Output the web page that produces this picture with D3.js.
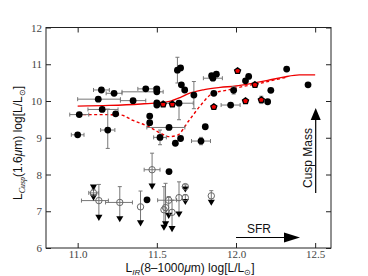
<!DOCTYPE html>
<html>
<head>
<meta charset="utf-8">
<script src="https://d3js.org/d3.v7.min.js"></script>
<style>
    body { margin: 0; background: #fff; }
    svg { display: block; }
    .tick text { font-family: 'Liberation Serif', 'DejaVu Serif', serif; font-size: 11px; fill: #444; }
    .lbl { font-family: 'Liberation Sans', Arial, sans-serif; font-size: 12px; fill: #111; }
</style>
</head>
<body>
<svg width="368" height="276"></svg>
<script>
    // axis ticks
    const xTicks = [11.0, 11.5, 12.0, 12.5];
    const yTicks = [6, 7, 8, 9, 10, 11, 12];

    // filled detections: [x, y, xerrLo, xerrHi, yerrLo, yerrHi]
    const detections = [
        [11.00, 9.08, 0.04, 0.04, 0, 0],
        [11.15, 10.30, 0.05, 0.05, 0, 0],
        [11.23, 10.21, 0.05, 0.05, 0, 0],
        [11.13, 10.05, 0.13, 0.14, 0, 0],
        [11.35, 10.01, 0.08, 0.08, 0, 0],
        [11.43, 10.33, 0.05, 0.05, 0, 0],
        [11.50, 10.33, 0, 0, 0, 0],
        [11.50, 10.25, 0.22, 0.04, 0, 0],
        [11.01, 9.63, 0.06, 0.06, 0, 0],
        [11.155, 9.77, 0.09, 0.1, 0, 0],
        [11.24, 9.65, 0, 0, 0, 0],
        [11.19, 9.21, 0.045, 0.045, 0.5, 0.57],
        [11.455, 9.59, 0, 0, 0, 0],
        [11.455, 9.41, 0, 0, 0, 0],
        [11.577, 9.28, 0.14, 0.1, 0, 0],
        [11.52, 9.01, 0.04, 0.04, 0.2, 0.2],
        [11.65, 8.98, 0, 0, 0, 0],
        [11.617, 8.85, 0, 0, 0, 0],
        [11.806, 9.30, 0, 0, 0, 0],
        [11.779, 8.91, 0.06, 0.06, 0.1, 0.1],
        [11.577, 8.08, 0, 0, 0, 0],
        [11.63, 10.84, 0, 0, 0.35, 0.35],
        [11.65, 10.90, 0, 0, 0, 0],
        [11.846, 10.69, 0, 0, 0, 0],
        [11.854, 10.62, 0.06, 0.06, 0, 0],
        [11.876, 10.73, 0, 0, 0, 0],
        [11.655, 10.44, 0, 0, 0, 0],
        [11.676, 10.30, 0, 0, 0, 0],
        [11.734, 10.16, 0, 0, 0.37, 0.37],
        [11.50, 9.89, 0, 0, 0, 0],
        [11.50, 9.95, 0, 0, 0, 0],
        [11.64, 9.94, 0.09, 0.09, 0.45, 0.05],
        [11.966, 9.89, 0.06, 0.06, 0, 0],
        [12.06, 10.55, 0, 0, 0, 0],
        [12.08, 10.67, 0, 0, 0, 0],
        [12.32, 10.87, 0, 0, 0, 0],
        [12.455, 10.44, 0, 0, 0, 0],
        [12.20, 9.98, 0, 0, 0, 0],
        [12.22, 10.29, 0, 0, 0, 0],
        [11.86, 10.21, 0, 0, 0, 0],
        [11.985, 10.29, 0, 0, 0.1, 0.1],
        [11.438, 7.31, 0, 0, 0, 0]
    ];

    // red pentagons: [x, y, yerr]
    const redPoints = [
        [11.54, 9.91, 0],
        [11.598, 9.91, 0],
        [12.01, 10.82, 0],
        [11.86, 9.84, 0],
        [12.06, 10.00, 0],
        [12.12, 10.44, 0],
        [12.16, 10.03, 0.1]
    ];

    // upper limits (open circles): [x, y, xerrLo, xerrHi, yTop, yArrow]
    const limits = [
        [11.10, 7.50, 0.03, 0.03, 7.60, 7.40],
        [11.134, 7.29, 0.11, 0.06, 7.73, 6.85],
        [11.266, 7.24, 0.09, 0.08, 7.67, 6.81],
        [11.397, 7.12, 0, 0, 7.55, 6.70],
        [11.47, 8.13, 0.05, 0.05, 8.58, 7.70],
        [11.545, 7.04, 0, 0, 7.67, 6.58],
        [11.555, 7.10, 0, 0, 7.76, 6.67],
        [11.575, 7.30, 0.07, 0.05, 7.40, 6.90],
        [11.596, 6.97, 0, 0, 7.30, 6.54],
        [11.64, 7.37, 0, 0, 7.80, 6.94],
        [11.68, 7.67, 0, 0, 7.72, 7.62],
        [11.68, 7.37, 0, 0, 7.45, 7.28],
        [11.844, 7.42, 0, 0, 7.56, 7.26]
    ];
    // lone triangle above the first limit point
    const extraArrows = [[11.10, 7.67]];

    // model tracks
    const solidX = [11.0, 11.2, 11.4, 11.5, 11.58, 11.65, 11.7, 11.8, 11.9, 12.0, 12.1, 12.2, 12.3, 12.4, 12.5];
    const solidY = [9.86, 9.88, 9.92, 9.95, 9.99, 10.10, 10.20, 10.31, 10.37, 10.41, 10.48, 10.56, 10.65, 10.71, 10.71];
    const dashX = [11.0, 11.15, 11.27, 11.35, 11.45, 11.52, 11.58, 11.63, 11.7, 11.78, 11.85, 11.95, 12.05, 12.15, 12.25, 12.32];
    const dashY = [9.63, 9.63, 9.62, 9.47, 9.30, 9.13, 9.03, 9.07, 9.45, 9.90, 10.20, 10.30, 10.40, 10.48, 10.58, 10.65];

    const svg = d3.select('svg');
    const x = d3.scaleLinear().domain([10.8, 12.6]).range([46, 331]);
    const y = d3.scaleLinear().domain([6, 12]).range([248, 27.5]);

    // axes, ticks pointing inward
    svg.append('g').attr('transform', 'translate(0,248)')
        .call(d3.axisBottom(x).tickValues(xTicks).tickFormat(d3.format('.1f')).tickSizeInner(-5).tickSizeOuter(0).tickPadding(2));
    svg.append('g').attr('transform', 'translate(0,27.5)')
        .call(d3.axisTop(x).tickValues(xTicks).tickFormat('').tickSizeInner(-5).tickSizeOuter(0));
    svg.append('g').attr('transform', 'translate(46,0)')
        .call(d3.axisLeft(y).tickValues(yTicks).tickFormat(d3.format('d')).tickSizeInner(-5).tickSizeOuter(0).tickPadding(4));
    svg.append('g').attr('transform', 'translate(331,0)')
        .call(d3.axisRight(y).tickValues(yTicks).tickFormat('').tickSizeInner(-5).tickSizeOuter(0));
    svg.selectAll('.domain').remove();
    svg.selectAll('.tick line').attr('stroke', '#222');

    svg.append('rect')
        .attr('x', 46).attr('y', 27.5).attr('width', 285).attr('height', 220.5)
        .attr('fill', 'none').attr('stroke', '#222').attr('stroke-width', 1);

    const plot = svg.append('g');
    const ebColor = '#777';

    // model lines
    const line = d3.line().x(d => x(d[0])).y(d => y(d[1])).curve(d3.curveMonotoneX);
    plot.append('path')
        .attr('d', line(d3.zip(dashX, dashY)))
        .attr('fill', 'none').attr('stroke', '#e00').attr('stroke-width', 1.4)
        .attr('stroke-dasharray', '3,2.5');
    plot.append('path')
        .attr('d', line(d3.zip(solidX, solidY)))
        .attr('fill', 'none').attr('stroke', '#e00').attr('stroke-width', 1.4);

    function errBars(g, px, py, xlo, xhi, ylo, yhi) {
        if (xlo || xhi) {
            g.append('line').attr('x1', x(px - xlo)).attr('x2', x(px + xhi)).attr('y1', y(py)).attr('y2', y(py));
            g.append('line').attr('x1', x(px - xlo)).attr('x2', x(px - xlo)).attr('y1', y(py) - 2).attr('y2', y(py) + 2);
            g.append('line').attr('x1', x(px + xhi)).attr('x2', x(px + xhi)).attr('y1', y(py) - 2).attr('y2', y(py) + 2);
        }
        if (ylo || yhi) {
            g.append('line').attr('x1', x(px)).attr('x2', x(px)).attr('y1', y(py - ylo)).attr('y2', y(py + yhi));
            g.append('line').attr('x1', x(px) - 2).attr('x2', x(px) + 2).attr('y1', y(py - ylo)).attr('y2', y(py - ylo));
            g.append('line').attr('x1', x(px) - 2).attr('x2', x(px) + 2).attr('y1', y(py + yhi)).attr('y2', y(py + yhi));
        }
    }

    const eb = plot.append('g').attr('stroke', ebColor).attr('stroke-width', 1);
    detections.forEach(d => errBars(eb, d[0], d[1], d[2], d[3], d[4], d[5]));
    redPoints.forEach(d => errBars(eb, d[0], d[1], 0, 0, d[2], d[2]));
    limits.forEach(d => {
        errBars(eb, d[0], d[1], d[2], d[3], 0, 0);
        eb.append('line').attr('x1', x(d[0])).attr('x2', x(d[0])).attr('y1', y(d[4])).attr('y2', y(d[5]));
        eb.append('line').attr('x1', x(d[0]) - 2).attr('x2', x(d[0]) + 2).attr('y1', y(d[4])).attr('y2', y(d[4]));
    });

    // down arrows of the limits
    const tri = d3.symbol().type(d3.symbolTriangle).size(22);
    plot.selectAll('.arrow')
        .data(limits.map(d => [d[0], d[5]]).concat(extraArrows))
        .join('path')
        .attr('d', tri)
        .attr('transform', d => 'translate(' + x(d[0]) + ',' + y(d[1]) + ') rotate(180)')
        .attr('fill', '#000');

    plot.selectAll('.lim')
        .data(limits)
        .join('circle')
        .attr('cx', d => x(d[0])).attr('cy', d => y(d[1])).attr('r', 3.2)
        .attr('fill', 'none').attr('stroke', '#666').attr('stroke-width', 1);

    plot.selectAll('.det')
        .data(detections)
        .join('circle')
        .attr('cx', d => x(d[0])).attr('cy', d => y(d[1])).attr('r', 3.4)
        .attr('fill', '#000');

    // pentagon marker
    const pentagon = {
        draw(ctx, size) {
            const r = Math.sqrt(size / 2.378);
            for (let i = 0; i < 5; i++) {
                const a = -Math.PI / 2 + i * 2 * Math.PI / 5;
                if (i === 0) ctx.moveTo(r * Math.cos(a), r * Math.sin(a));
                else ctx.lineTo(r * Math.cos(a), r * Math.sin(a));
            }
            ctx.closePath();
        }
    };
    plot.selectAll('.red')
        .data(redPoints)
        .join('path')
        .attr('d', d3.symbol().type(pentagon).size(24))
        .attr('transform', d => 'translate(' + x(d[0]) + ',' + y(d[1]) + ')')
        .attr('fill', '#e00').attr('stroke', '#000').attr('stroke-width', 1.3);

    // annotations
    svg.append('text').attr('class', 'lbl').attr('x', 259).attr('y', 233)
        .attr('text-anchor', 'middle').text('SFR');
    svg.append('line').attr('x1', 236).attr('x2', 286).attr('y1', 237.5).attr('y2', 237.5)
        .attr('stroke', '#000').attr('stroke-width', 1.2);
    svg.append('path').attr('d', 'M284,232.5 L300,237.5 L284,242.5 Z').attr('fill', '#000');

    svg.append('text').attr('class', 'lbl')
        .attr('transform', 'translate(312,158) rotate(-90)')
        .attr('text-anchor', 'middle').text('Cusp Mass');
    svg.append('line').attr('x1', 315.7).attr('x2', 315.7).attr('y1', 193).attr('y2', 118)
        .attr('stroke', '#000').attr('stroke-width', 1.2);
    svg.append('path').attr('d', 'M310.7,120 L315.7,108 L320.7,120 Z').attr('fill', '#000');

    // axis titles
    const xl = svg.append('text').attr('class', 'lbl').attr('x', 190).attr('y', 272).attr('text-anchor', 'middle');
    xl.append('tspan').text('L');
    xl.append('tspan').attr('font-size', '8px').attr('font-style', 'italic').attr('dy', 3).text('IR');
    xl.append('tspan').attr('dy', -3).text('(8–1000');
    xl.append('tspan').attr('font-style', 'italic').text('μ');
    xl.append('tspan').text('m) log[L/L');
    xl.append('tspan').attr('font-size', '8px').attr('dy', 3).text('⊙');
    xl.append('tspan').attr('dy', -3).text(']');

    const yl = svg.append('text').attr('class', 'lbl')
        .attr('transform', 'translate(22,143) rotate(-90)').attr('text-anchor', 'middle');
    yl.append('tspan').text('L');
    yl.append('tspan').attr('font-size', '8px').attr('font-style', 'italic').attr('font-family', 'Liberation Serif, serif').attr('dy', 3).text('Cusp');
    yl.append('tspan').attr('dy', -3).text('(1.6');
    yl.append('tspan').attr('font-style', 'italic').text('μ');
    yl.append('tspan').text('m) log[L/L');
    yl.append('tspan').attr('font-size', '8px').attr('dy', 3).text('⊙');
    yl.append('tspan').attr('dy', -3).text(']');
</script>
</body>
</html>
